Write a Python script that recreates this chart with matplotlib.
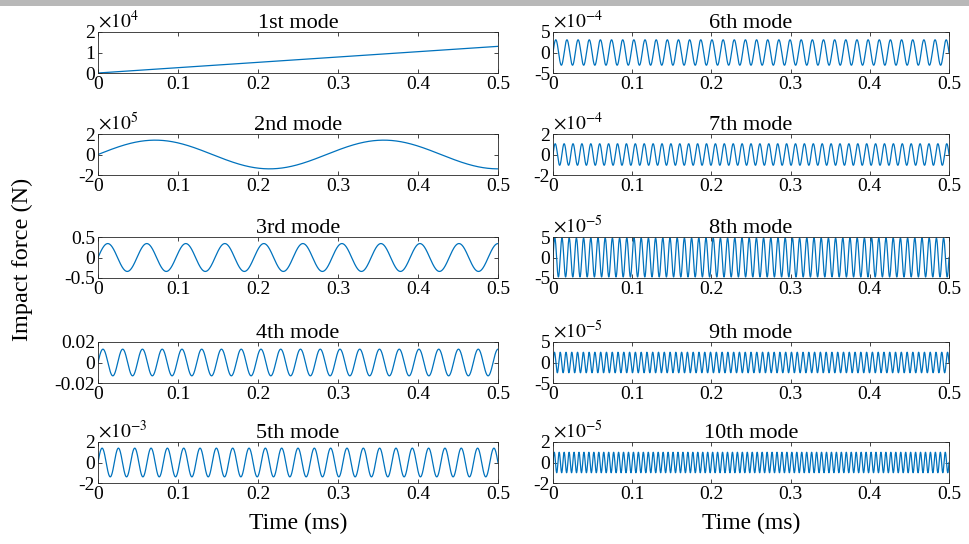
import numpy as np
import matplotlib.pyplot as plt
from matplotlib.patches import Rectangle

# values
mode_titles = ["1st mode", "2nd mode", "3rd mode", "4th mode", "5th mode",
               "6th mode", "7th mode", "8th mode", "9th mode", "10th mode"]
# mode 1 is a ramp: force at t = 0 and t = 0.5 ms
ramp_time = [0.0, 0.5]
ramp_force = [0.0, 1.3e4]
# modes 2..10: amplitude (N) and frequency (cycles per ms)
wave_amplitude = [1.4e5, 0.34, 0.013, 1.4e-3, 3.1e-4, 1.05e-4, 4.75e-5, 2.5e-5, 1.0e-5]
wave_frequency = [3.5, 20.5, 40.5, 49.0, 71.0, 89.0, 110.0, 137.0, 160.0]
# axis scaling
y_limit = [2e4, 2e5, 0.5, 0.02, 2e-3, 5e-4, 2e-4, 5e-5, 5e-5, 2e-5]
y_exponent = [4, 5, None, None, -3, -4, -4, -5, -5, -5]
x_ticks = [0, 0.1, 0.2, 0.3, 0.4, 0.5]

LINE_COLOR = "#0072BD"

plt.rcParams["font.family"] = ["Liberation Serif", "DejaVu Serif"]
plt.rcParams["mathtext.fontset"] = "stix"
plt.rcParams["axes.unicode_minus"] = False

W, H = 970, 544
fig = plt.figure(figsize=(W / 100, H / 100), dpi=100)

col_left = [98, 553]
col_right = [498, 949]
row_top = [32, 134, 237, 342, 442]
box_h = 41

t = np.linspace(0, 0.5, 4001)

for i, title in enumerate(mode_titles):
    col = i // 5
    row = i % 5
    x0 = col_left[col]
    x1 = col_right[col]
    y0 = row_top[row]
    ax = fig.add_axes([x0 / W, 1 - (y0 + box_h) / H, (x1 - x0) / W, box_h / H])

    if i == 0:
        ax.plot(ramp_time, ramp_force, color=LINE_COLOR, linewidth=0.9)
    else:
        amp = wave_amplitude[i - 1]
        freq = wave_frequency[i - 1]
        ax.plot(t, amp * np.sin(2 * np.pi * freq * t), color=LINE_COLOR, linewidth=0.9)

    lim = y_limit[i]
    exp = y_exponent[i]
    if i == 0:
        ax.set_ylim(0, lim)
        ticks = [0, lim / 2, lim]
    else:
        ax.set_ylim(-lim, lim)
        ticks = [-lim, 0, lim]
    ax.set_yticks(ticks)
    if exp is None:
        ax.set_yticklabels([f"{v:g}" for v in ticks])
    else:
        ax.set_yticklabels([f"{v / 10 ** exp:g}" for v in ticks])
        ax.text(0.0, 1.0, r"$\times10^{%d}$" % exp, transform=ax.transAxes,
                ha="left", va="bottom", fontsize=14)

    ax.set_xlim(0, 0.5)
    ax.set_xticks(x_ticks)
    ax.set_xticklabels([f"{v:g}" for v in x_ticks])
    ax.set_title(title, fontsize=16, pad=3)

    ax.tick_params(direction="in", top=True, right=True, length=3, width=0.6,
                   labelsize=14, pad=2, colors="#262626", labelcolor="black")
    for spine in ax.spines.values():
        spine.set_linewidth(0.6)
        spine.set_color("#262626")

fig.text(22 / W, 1 - 259 / H, "Impact force (N)", rotation=90, ha="center",
         va="center", fontsize=17.5)
fig.text((98 + 498) / 2 / W, 1 - 523 / H, "Time (ms)", ha="center",
         va="center", fontsize=17)
fig.text((553 + 949) / 2 / W, 1 - 523 / H, "Time (ms)", ha="center",
         va="center", fontsize=17)

# grey strip along the top edge of the reference
fig.patches.append(Rectangle((0, 1 - 6 / H), 1, 6 / H, transform=fig.transFigure,
                             facecolor="#b8b8b8", edgecolor="none"))

fig.savefig("out.png", dpi=100)
